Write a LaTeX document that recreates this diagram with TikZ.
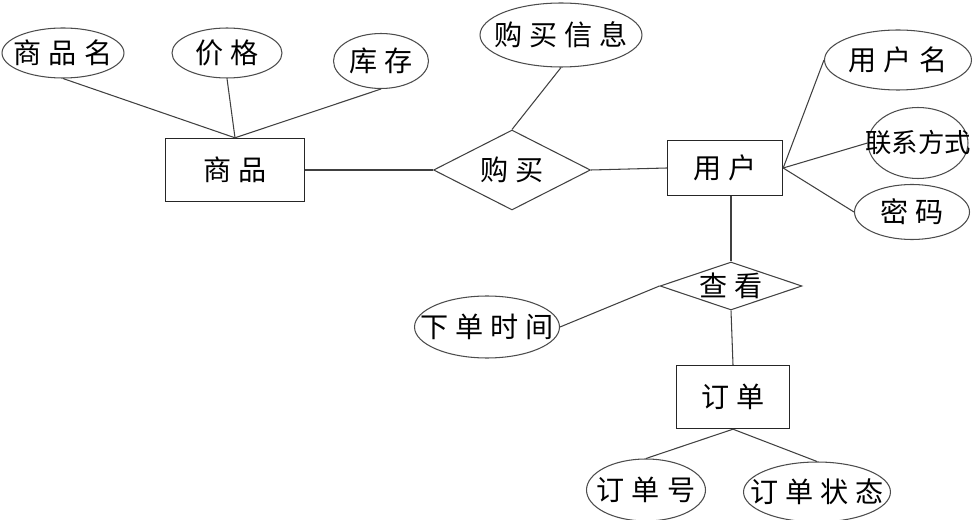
\documentclass[tikz,border=0pt]{standalone}
\usepackage{fontspec}
\newfontfamily\cjk[LetterSpace=25]{Noto Sans CJK SC}
\newfontfamily\cjktight{Noto Sans CJK SC}
\usetikzlibrary{shapes.geometric}
\tikzset{
  entity/.style={
    shape = rectangle,
    draw = black!85,
    line width = 0.8pt,
    inner sep = 0pt
  },
  attr/.style={
    shape = ellipse,
    draw = black!70,
    line width = 0.6pt,
    inner xsep = -20pt,
    inner ysep = 0pt
  },
  rel/.style={
    shape = diamond,
    aspect = 3,
    draw = black!75,
    line width = 0.6pt,
    inner sep = 0pt
  },
  link/.style={
    draw = black!75,
    line width = 0.6pt
  },
  every picture/.style = {
    font=\cjk\fontsize{16}{18}\selectfont
  }
}
\begin{document}
\begin{tikzpicture}[x=0.02cm, y=-0.02cm]
        \useasboundingbox (0,0) rectangle (974,520);

        \node[entity, minimum width=2.78cm, minimum height=1.26cm] (goods) at (235,170) {商品};
        \node[entity, minimum width=2.3cm, minimum height=1.1cm] (user) at (725,168) {用户};
        \node[entity, minimum width=2.26cm, minimum height=1.26cm] (order) at (733,397) {订单};

        \node[rel, minimum width=3.14cm, minimum height=1.6cm] (buy) at (512,170) {购买};
        \node[rel, minimum width=2.84cm, minimum height=0.96cm] (view) at (731,286) {查看};

        \node[attr, minimum width=2.44cm, minimum height=1cm] (gname) at (63,53) {商品名};
        \node[attr, minimum width=2.2cm, minimum height=1cm] (price) at (227,53) {价格};
        \node[attr, minimum width=1.9cm, minimum height=1.1cm] (stock) at (381,61) {库存};
        \node[attr, minimum width=3.24cm, minimum height=1.28cm] (binfo) at (561,35) {购买信息};
        \node[attr, minimum width=2.94cm, minimum height=1.2cm] (uname) at (898,60) {用户名};
        \node[attr, minimum width=2cm, minimum height=1.42cm,
              font=\cjktight\fontsize{15}{18}\selectfont] (contact) at (918,143) {联系方式};
        \node[attr, minimum width=2.3cm, minimum height=1.1cm] (pwd) at (912,212) {密码};
        \node[attr, minimum width=2.9cm, minimum height=1.24cm] (otime) at (487,327) {下单时间};
        \node[attr, minimum width=2.38cm, minimum height=1.24cm] (ono) at (646,490) {订单号};
        \node[attr, minimum width=2.94cm, minimum height=1.2cm] (ostate) at (817,492) {订单状态};

        \draw[link] (gname.south) -- (goods.north);
        \draw[link] (price.south) -- (goods.north);
        \draw[link] (stock.south) -- (goods.north);
        \draw[link] (goods.east) -- (buy.west);
        \draw[link] (binfo.south) -- (buy.north);
        \draw[link] (buy.east) -- (user.west);
        \draw[link] (user.east) -- (uname.west);
        \draw[link] (user.east) -- (contact.west);
        \draw[link] (user.east) -- (pwd.west);
        \draw[link] (view.north |- user.south) -- (view.north);
        \draw[link] (otime.east) -- (view.west);
        \draw[link] (view.south) -- (order.north);
        \draw[link] (order.south) -- (ono.north);
        \draw[link] (order.south) -- (ostate.north);
\end{tikzpicture}
\end{document}
